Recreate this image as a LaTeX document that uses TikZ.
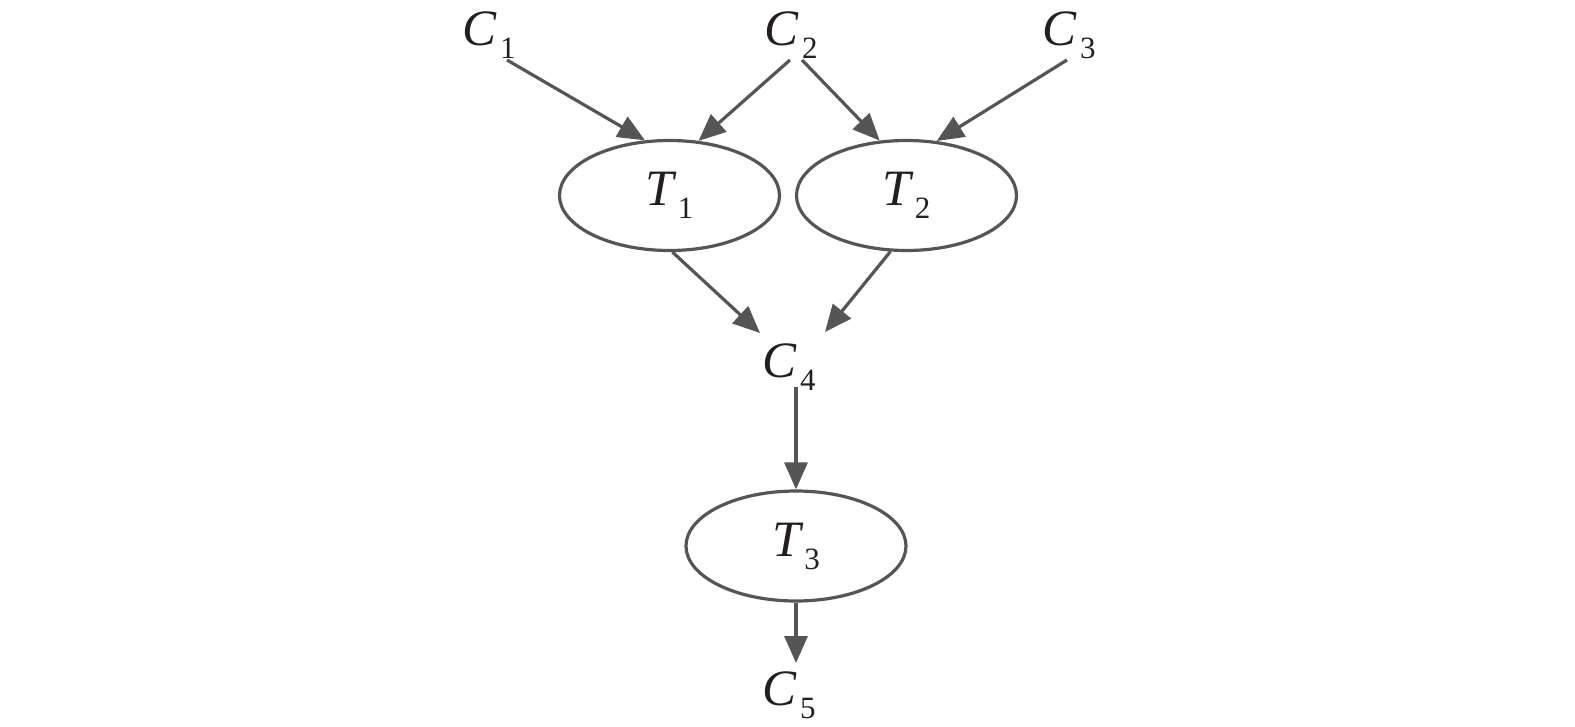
\documentclass[tikz,border=0pt]{standalone}
\usepackage{fontspec}
\setmainfont{Liberation Serif}
\usetikzlibrary{arrows.meta,shapes.geometric}
\definecolor{edge}{RGB}{85,85,85}
\definecolor{ink}{RGB}{35,31,32}
\newcommand{\lbl}[2]{{\itshape #1}\kern4pt\raisebox{-13pt}{\fontsize{31}{31}\selectfont #2}}
\begin{document}
\begin{tikzpicture}[x=1pt,y=-1pt,
  lab/.style={inner sep=0pt, outer sep=0pt, anchor=base west, text=ink,
    font=\fontsize{51}{51}\selectfont},
  task/.style={ellipse, draw=edge, line width=3.2pt, minimum width=220pt,
    minimum height=110pt, inner sep=0pt, text=ink, font=\fontsize{51}{51}\selectfont},
  arr/.style={edge, line width=3.2pt, -{Triangle[length=27pt,width=23pt]}}]
\useasboundingbox (0,0) rectangle (1575,726);
% labels
\node[lab] (c1) at (462,45) {\lbl{C}{1}};
\node[lab] (c2) at (764,45) {\lbl{C}{2}};
\node[lab] (c3) at (1042,45) {\lbl{C}{3}};
\node[lab] (c4) at (762,377) {\lbl{C}{4}};
\node[lab] (c5) at (762,705) {\lbl{C}{5}};
% tasks
\node[task] (t1) at (669.5,195.5) {\lbl{T}{1}};
\node[task] (t2) at (906.5,195.5) {\lbl{T}{2}};
\node[task] (t3) at (796,546) {\lbl{T}{3}};
% connectors
\draw[arr] ([shift={(45,15)}]c1.base west) -- (t1.114.7);
\draw[arr] ([shift={(26,15)}]c2.base west) -- (t1.62.5);
\draw[arr] ([shift={(38,15)}]c2.base west) -- (t2.116);
\draw[arr] ([shift={(25,15)}]c3.base west) -- (t2.61.7);
\draw[arr] (t1.273.5) -- ([shift={(-2,-44)}]c4.base west);
\draw[arr] (t2.254) -- ([shift={(63,-45)}]c4.base west);
\draw[arr] ([shift={(34,10)}]c4.base west) -- (t3.north);
\draw[arr] (t3.south) -- ([shift={(34,-42)}]c5.base west);
\end{tikzpicture}
\end{document}
